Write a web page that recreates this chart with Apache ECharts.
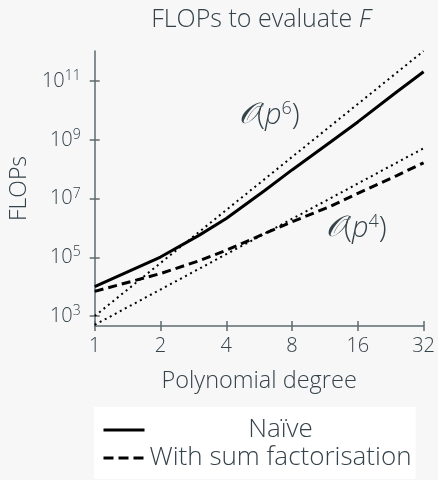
<!DOCTYPE html>
<html><head><meta charset="utf-8">
<script src="https://cdn.jsdelivr.net/npm/echarts@6/dist/echarts.min.js"></script>
<style>html,body{margin:0;background:#f7f7f7}#c{width:438px;height:480px}</style>
</head><body><div id="c"></div>
<script>
// ---- data ----
const degrees = [1, 2, 3, 4, 6, 8, 12, 16, 24, 32];
const naive = [1.0e4, 1.02e5, 5.6e5, 2.1e6, 1.9e7, 9.5e7, 8.5e8, 4.1e9, 4.2e10, 2.1e11];
const sumFact = [6.9e3, 2.8e4, 7.6e4, 1.74e5, 6.46e5, 1.62e6, 5.5e6, 1.51e7, 6.0e7, 1.66e8];
const refDegrees = [1, 32];
const refP6 = [1000, 1.07e12];
const refP4 = [500, 5.2e8];
const xTicks = [1, 2, 4, 8, 16, 32];
const yTicks = [1e3, 1e5, 1e7, 1e9, 1e11];
const seriesNames = ['Naïve', 'With sum factorisation'];

const FONT = '"Open Sans", "DejaVu Sans", sans-serif';
const W = 300;
const TXT = '#34424a';
const AX = '#5d6b72';
const pair = (xs, ys) => xs.map((x, i) => [x, ys[i]]);

const chart = echarts.init(document.getElementById('c'), null, {renderer: 'canvas'});

const yLabelFmt = v => '{b|10}{s|' + Math.round(Math.log10(v)) + '}';
const grid = {left: 93, right: 11, top: 51, bottom: 154};
const yBase = {
  type: 'log', logBase: 10, min: 457, max: 1.07e12, position: 'left',
  splitLine: {show: false}
};
const xBase = {
  type: 'log', logBase: 2, min: 1, max: 32, position: 'bottom',
  splitLine: {show: false}
};
const oRich = {
  o: {fontFamily: 'DejaVu Serif, serif', fontSize: 29, fill: TXT, fontStyle: 'italic'},
  n: {fontFamily: FONT, fontSize: 29, fill: TXT, fontWeight: W},
  i: {fontFamily: FONT, fontSize: 29, fill: TXT, fontStyle: 'italic', fontWeight: W},
  s: {fontFamily: FONT, fontSize: 18, fill: TXT, fontWeight: W, padding: [0, 0, 13, 0]}
};

chart.setOption({
  animation: false,
  backgroundColor: '#f7f7f7',
  textStyle: {fontFamily: FONT},
  title: {
    text: '{a|FLOPs to evaluate }{i|F}',
    left: 256, top: 2, textAlign: 'center',
    textStyle: {
      fontWeight: 'normal',
      rich: {
        a: {fontFamily: FONT, fontSize: 25, color: TXT, fontWeight: W},
        i: {fontFamily: FONT, fontSize: 25, color: TXT, fontStyle: 'italic', fontWeight: W}
      }
    }
  },
  grid: grid,
  xAxis: [
    Object.assign({}, xBase, {
      name: 'Polynomial degree', nameLocation: 'middle', nameGap: 43,
      nameTextStyle: {fontFamily: FONT, fontSize: 23.5, color: TXT, fontWeight: W},
      axisLine: {show: true, lineStyle: {color: AX, width: 1.5}},
      axisTick: {show: true, length: 5, lineStyle: {color: AX, width: 1.5}, customValues: xTicks},
      axisLabel: {show: true, fontFamily: FONT, fontSize: 20, color: TXT, fontWeight: W, margin: 10, customValues: xTicks,
        formatter: v => String(Math.round(v))}
    }),
    Object.assign({}, xBase, {
      axisLine: {show: false},
      axisTick: {show: true, inside: true, length: 5, lineStyle: {color: AX, width: 1.5}, customValues: xTicks},
      axisLabel: {show: false}
    })
  ],
  yAxis: [
    Object.assign({}, yBase, {
      name: 'FLOPs', nameLocation: 'middle', nameGap: 63, nameRotate: 90,
      nameTextStyle: {fontFamily: FONT, fontSize: 23, color: TXT, fontWeight: W},
      axisLine: {show: true, lineStyle: {color: AX, width: 1.5}},
      axisTick: {show: true, length: 5, lineStyle: {color: AX, width: 1.5}, customValues: yTicks},
      axisLabel: {show: true, margin: 14, customValues: yTicks, formatter: yLabelFmt,
        rich: {
          b: {fontFamily: FONT, fontSize: 20, color: TXT, fontWeight: W},
          s: {fontFamily: FONT, fontSize: 14, color: TXT, fontWeight: W, padding: [0, 0, 10, 0]}
        }}
    }),
    Object.assign({}, yBase, {
      axisLine: {show: false},
      axisTick: {show: true, inside: true, length: 5, lineStyle: {color: AX, width: 1.5}, customValues: yTicks},
      axisLabel: {show: false}
    })
  ],
  legend: {
    left: 94, top: 407, orient: 'vertical',
    backgroundColor: '#ffffff', borderWidth: 0,
    padding: [10, 4, 8, 8],
    itemWidth: 41, itemHeight: 14, itemGap: 2,
    itemStyle: {opacity: 0},
    data: [
      {name: seriesNames[0], itemStyle: {opacity: 0}, lineStyle: {type: 'solid', width: 3, color: '#000'}},
      {name: seriesNames[1], itemStyle: {opacity: 0}, lineStyle: {type: [10, 5], width: 3, color: '#000'}}
    ],
    formatter: n => '{t|' + n + '}',
    textStyle: {
      rich: {t: {fontFamily: FONT, fontSize: 26, color: TXT, fontWeight: W, width: 262, align: 'center', lineHeight: 26}}
    }
  },
  graphic: [
    {type: 'text', left: 239, top: 100, silent: true,
      style: {text: '{o|𝒪}{n|(}{i|p}{s|6}{n|)}', rich: oRich}},
    {type: 'text', left: 326, top: 213, silent: true,
      style: {text: '{o|𝒪}{n|(}{i|p}{s|4}{n|)}', rich: oRich}}
  ],
  series: [
    {type: 'line', name: 'ref6', data: pair(refDegrees, refP6), showSymbol: false, symbol: 'none',
      lineStyle: {color: '#000', width: 2, type: [2, 3.7]}, silent: true},
    {type: 'line', name: 'ref4', data: pair(refDegrees, refP4), showSymbol: false, symbol: 'none',
      lineStyle: {color: '#000', width: 2, type: [2, 3.7]}, silent: true},
    {type: 'line', name: seriesNames[0], data: pair(degrees, naive), showSymbol: false, symbol: 'none',
      color: '#000', lineStyle: {color: '#000', width: 3, type: 'solid'}},
    {type: 'line', name: seriesNames[1], data: pair(degrees, sumFact), showSymbol: false, symbol: 'none',
      color: '#000', lineStyle: {color: '#000', width: 3, type: [9, 5]}}
  ]
});
</script></body></html>
